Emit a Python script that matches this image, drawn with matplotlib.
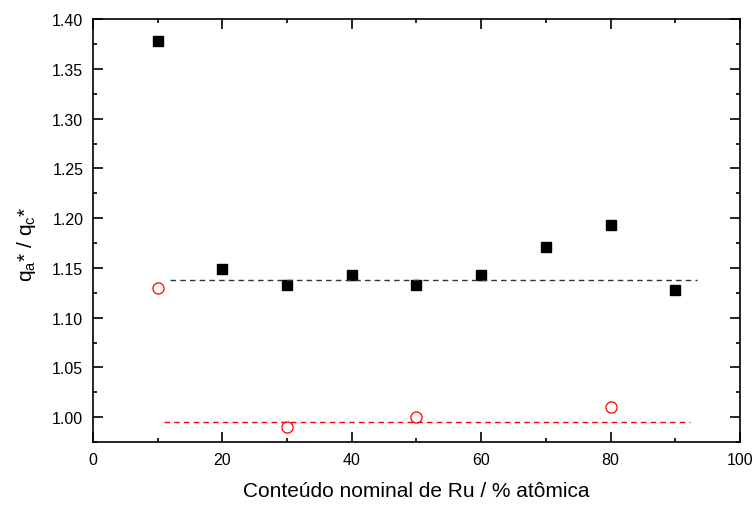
import matplotlib
matplotlib.use('Agg')
import matplotlib.pyplot as plt
from matplotlib.ticker import MultipleLocator, FormatStrFormatter

# Data
ru_black = [10, 20, 30, 40, 50, 60, 70, 80, 90]
ratio_black = [1.378, 1.149, 1.133, 1.143, 1.133, 1.143, 1.171, 1.193, 1.128]
ru_red = [10, 30, 50, 80]
ratio_red = [1.130, 0.990, 1.000, 1.010]

mean_black = 1.138
mean_red = 0.995
black_span = [11.9, 93.3]
red_span = [11.0, 92.3]

plt.rcParams['font.family'] = ['Liberation Sans', 'DejaVu Sans']
plt.rcParams['mathtext.fontset'] = 'custom'
plt.rcParams['mathtext.rm'] = 'Liberation Sans'
plt.rcParams['mathtext.it'] = 'Liberation Sans'

fig = plt.figure(figsize=(7.52, 5.06), dpi=100)
ax = fig.add_axes([0.1237, 0.1245, 0.8603, 0.8355])

ax.plot(ru_black, ratio_black, 's', color='black', markersize=7.5, linestyle='none')
ax.plot(ru_red, ratio_red, 'o', markerfacecolor='none', markeredgecolor='red',
        markersize=8, markeredgewidth=0.9, linestyle='none')
ax.plot(black_span, [mean_black, mean_black], '--', color='#333333', linewidth=1,
        dashes=(4, 3))
ax.plot(red_span, [mean_red, mean_red], '--', color='red', linewidth=1, dashes=(4, 3))

ax.set_xlim(0, 100)
ax.set_ylim(0.975, 1.40)
ax.xaxis.set_major_locator(MultipleLocator(20))
ax.xaxis.set_minor_locator(MultipleLocator(10))
ax.yaxis.set_major_locator(MultipleLocator(0.05))
ax.yaxis.set_minor_locator(MultipleLocator(0.025))
ax.yaxis.set_major_formatter(FormatStrFormatter('%.2f'))

ax.tick_params(which='both', direction='in', top=True, right=True, labelsize=11.5, width=1.2)
ax.tick_params(which='major', length=7, pad=7)
ax.tick_params(which='minor', length=3)
for s in ax.spines.values():
    s.set_linewidth(1.2)

ax.set_xlabel('Conteúdo nominal de Ru / % atômica', fontsize=15, labelpad=10)
ax.set_ylabel(r'q$_\mathregular{a}$* / q$_\mathregular{c}$*', fontsize=15, labelpad=10)
ax.yaxis.set_label_coords(-0.085, 0.47)

fig.savefig('out.png', dpi=100)
